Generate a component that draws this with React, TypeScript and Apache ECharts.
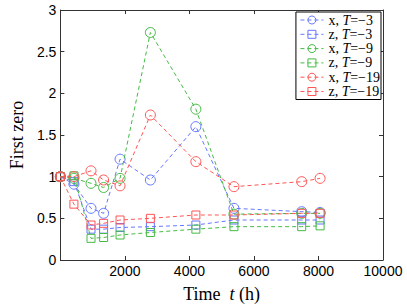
import React, { useEffect, useRef } from "react";
import * as echarts from "echarts";

const times = [0, 420, 950, 1340, 1850, 2790, 4200, 5380, 7480, 8050];
const blueX = [1.0, 0.91, 0.62, 0.56, 1.21, 0.96, 1.6, 0.62, 0.58, 0.57];
const blueZ = [1.0, 0.94, 0.37, 0.37, 0.39, 0.4, 0.42, 0.48, 0.48, 0.48];
const greenX = [1.0, 0.98, 0.92, 0.87, 0.98, 2.73, 1.81, 0.55, 0.56, 0.56];
const greenZ = [1.0, 1.01, 0.26, 0.27, 0.3, 0.33, 0.37, 0.4, 0.4, 0.41];
const redX = [1.0, 1.0, 1.07, 0.96, 0.89, 1.74, 1.18, 0.88, 0.94, 0.98];
const redZ = [1.0, 0.67, 0.42, 0.44, 0.48, 0.5, 0.54, 0.54, 0.56, 0.56];

const seriesNames = ["x, T=−3", "z, T=−3", "x, T=−9", "z, T=−9", "x, T=−19", "z, T=−19"];
const seriesValues = [blueX, blueZ, greenX, greenZ, redX, redZ];
const seriesColors = ["#6677ff", "#6677ff", "#44bb44", "#44bb44", "#ff5555", "#ff5555"];
const seriesSymbols = ["circle", "rect", "circle", "rect", "circle", "rect"];

const SERIF = "'Liberation Serif', 'DejaVu Serif', serif";
const SANS = "'Liberation Sans', Arial, sans-serif";

export default function App() {
  const ref = useRef<HTMLDivElement>(null);
  useEffect(() => {
    if (!ref.current) return;
    const chart = echarts.init(ref.current, null, { renderer: "svg" });
    const series = seriesNames.map((name, i) => ({
      name,
      type: "line",
      data: times.map((t, j) => [t, seriesValues[i][j]]),
      symbol: seriesSymbols[i],
      symbolSize: seriesSymbols[i] === "circle" ? 10 : 8,
      showSymbol: true,
      lineStyle: { color: seriesColors[i], width: 1, type: [4, 3] },
      itemStyle: { color: "rgba(255,255,255,0)", borderColor: seriesColors[i], borderWidth: 1 },
      emphasis: { disabled: true },
      z: 2 + i,
    }));
    chart.setOption({
      animation: false,
      backgroundColor: "#ffffff",
      grid: { left: 50, right: 24, top: 10, bottom: 37, show: false },
      legend: {
        orient: "vertical",
        right: 26,
        top: 12,
        itemWidth: 23,
        itemHeight: 10,
        itemGap: 0.3,
        itemTextGap: 3,
        padding: [1, 1, 1, 4],
        backgroundColor: "#ffffff",
        borderColor: "#000000",
        borderWidth: 1,
        borderRadius: 0,
        data: seriesNames,
        itemStyle: { borderWidth: 1 },
        lineStyle: { width: 1 },
        formatter: (name: string) => name.replace("T", "{i|T}"),
        textStyle: {
          fontFamily: SERIF,
          fontSize: 14,
          lineHeight: 14,
          color: "#000",
          rich: {
            i: { fontFamily: SERIF, fontSize: 14, lineHeight: 14, fontStyle: "italic", color: "#000" },
          },
        },
      },
      xAxis: [
        {
          type: "value",
          min: 0,
          max: 10000,
          interval: 2000,
          position: "bottom",
          axisLine: { show: true, lineStyle: { color: "#333", width: 1 } },
          axisTick: { show: true, inside: true, length: 4, lineStyle: { color: "#333" } },
          splitLine: { show: false },
          axisLabel: {
            fontFamily: SANS,
            fontSize: 14,
            color: "#000",
            margin: 4,
            formatter: (v: number) => (v === 0 ? "" : String(v)),
          },
          name: "Time  {i|t} (h)",
          nameLocation: "middle",
          nameGap: 25,
          nameTextStyle: {
            fontFamily: SERIF,
            fontSize: 18,
            color: "#000",
            rich: { i: { fontFamily: SERIF, fontSize: 18, fontStyle: "italic", color: "#000" } },
          },
        },
        {
          type: "value",
          min: 0,
          max: 10000,
          interval: 2000,
          position: "top",
          axisLine: { show: true, onZero: false, lineStyle: { color: "#333", width: 1 } },
          axisTick: { show: true, inside: true, length: 4, lineStyle: { color: "#333" } },
          splitLine: { show: false },
          axisLabel: { show: false },
        },
      ],
      yAxis: [
        {
          type: "value",
          min: 0,
          max: 3,
          interval: 0.5,
          position: "left",
          axisLine: { show: true, lineStyle: { color: "#333", width: 1 } },
          axisTick: { show: true, inside: true, length: 4, lineStyle: { color: "#333" } },
          splitLine: { show: false },
          axisLabel: { fontFamily: SANS, fontSize: 14, color: "#000", margin: 4 },
          name: "First zero",
          nameLocation: "middle",
          nameGap: 29,
          nameTextStyle: { fontFamily: SERIF, fontSize: 18, color: "#000" },
        },
        {
          type: "value",
          min: 0,
          max: 3,
          interval: 0.5,
          position: "right",
          axisLine: { show: true, onZero: false, lineStyle: { color: "#333", width: 1 } },
          axisTick: { show: true, inside: true, length: 4, lineStyle: { color: "#333" } },
          splitLine: { show: false },
          axisLabel: { show: false },
        },
      ],
      series,
    });
    return () => chart.dispose();
  }, []);
  return (
    <div
      ref={ref}
      style={{ position: "absolute", left: 0, top: 0, width: 407, height: 308, background: "#fff" }}
    />
  );
}
